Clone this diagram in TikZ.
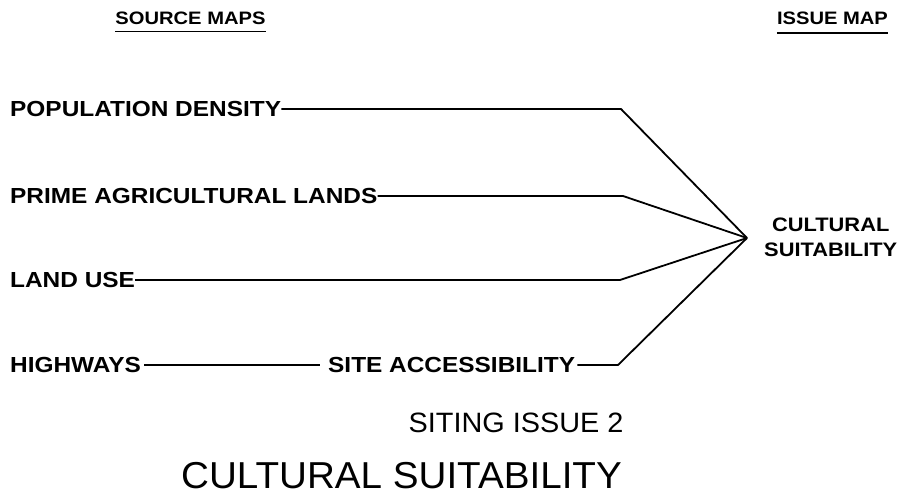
\documentclass[tikz,border=0pt]{standalone}
\usepackage{fontspec}
\setmainfont{Liberation Sans}
\newfontfamily\labfont[FakeStretch=1.12]{Liberation Sans Bold}
\newfontfamily\titfont[FakeStretch=1.03]{Liberation Sans}
\begin{document}
\begin{tikzpicture}[x=1pt,y=-1pt,
  lab/.style={inner sep=0pt,anchor=west,font=\labfont\fontsize{21.8}{21.8}\selectfont},
  head/.style={inner sep=0pt,font=\labfont\fontsize{18}{18}\selectfont},
  conn/.style={line width=1.8pt,line join=round},
  uline/.style={line width=1.5pt}]
\useasboundingbox (0,0) rectangle (908,495);
% headers
\node[head] (src) at (190.5,18) {SOURCE MAPS};
\node[head] (iss) at (832.5,18.5) {ISSUE MAP};
\draw[uline] (src.south west) ++(0,7) coordinate (su1) -- (su1 -| src.south east);
\draw[uline] (iss.south west) ++(0,8) coordinate (iu1) -- (iu1 -| iss.south east);
% source labels
\node[lab] (pd) at (10,109) {POPULATION DENSITY};
\node[lab] (pa) at (10,196) {PRIME AGRICULTURAL LANDS};
\node[lab] (lu) at (10,280) {LAND USE};
\node[lab] (hw) at (10,365) {HIGHWAYS};
\node[lab] (sa) at (328,365) {SITE ACCESSIBILITY};
% issue
\node[inner sep=0pt,anchor=west,align=center,font=\labfont\fontsize{19.5}{25}\selectfont] (cs) at (764,237) {CULTURAL\\SUITABILITY};
\coordinate (conv) at (747,238);
\coordinate (b1) at (621,109);
\coordinate (b2) at (623,196);
\coordinate (b3) at (620,280);
\coordinate (b4) at (618,365);
\draw[conn] (pd.east) -- (b1) -- (conv);
\draw[conn] (pa.east) -- (b2) -- (conv);
\draw[conn] (lu.east) -- (b3) -- (conv);
\draw[conn] ([xshift=3pt]hw.east) -- ([xshift=-8pt]sa.west);
\draw[conn] ([xshift=2pt]sa.east) -- (b4) -- (conv);
% titles
\node[inner sep=0pt,font=\titfont\fontsize{28}{28}\selectfont] (t1) at (516,423) {SITING ISSUE 2};
\node[inner sep=0pt,font=\titfont\fontsize{37.5}{37.5}\selectfont] (t2) at (401.5,475.5) {CULTURAL SUITABILITY};
\end{tikzpicture}
\end{document}
